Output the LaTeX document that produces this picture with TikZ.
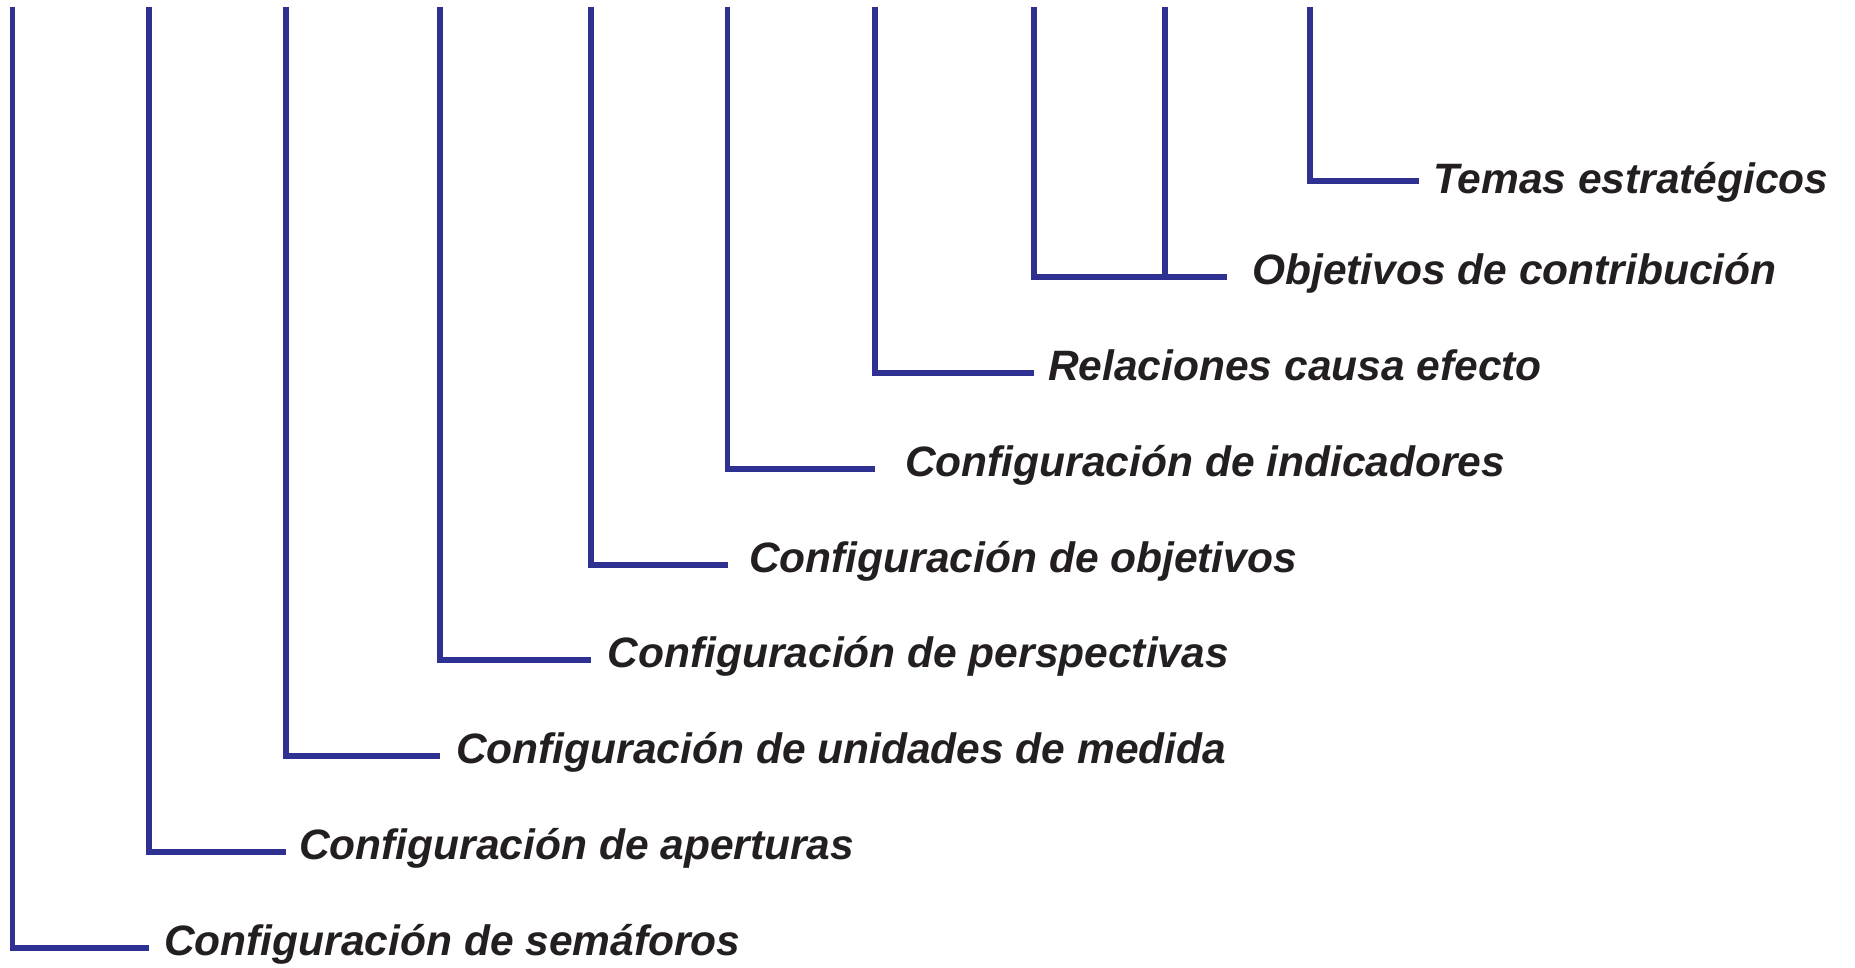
\documentclass[tikz,border=0pt]{standalone}
\usepackage{fontspec}
\setmainfont{Liberation Sans}
\definecolor{lineblue}{RGB}{46,49,146}
\definecolor{textblack}{RGB}{35,31,32}
\begin{document}
\begin{tikzpicture}[x=1pt,y=-1pt,
  link/.style={draw=lineblue,line width=5.2pt,line join=miter},
  lbl/.style={anchor=base west,inner sep=0pt,text=textblack,
    font=\fontsize{42.5}{50}\selectfont\bfseries\itshape}]
\useasboundingbox (0,0) rectangle (1855,968);
% top ends and corner ends
\coordinate (t1) at (12.5,7);   \coordinate (e1) at (149,948);
\coordinate (t2) at (149,7);    \coordinate (e2) at (286,852);
\coordinate (t3) at (286,7);    \coordinate (e3) at (440,756);
\coordinate (t4) at (440,7);    \coordinate (e4) at (591,660);
\coordinate (t5) at (591,7);    \coordinate (e5) at (727.5,565);
\coordinate (t6) at (727.5,7);  \coordinate (e6) at (875,469);
\coordinate (t7) at (875,7);    \coordinate (e7) at (1034,373);
\coordinate (t8) at (1034,7);   \coordinate (e8) at (1227,277);
\coordinate (t9) at (1165,7);
\coordinate (t10) at (1310,7);  \coordinate (e10) at (1419,181);
% labels
\node[lbl] (n1) at (164,955.5) {Configuración de semáforos};
\node[lbl] (n2) at (299,859.5) {Configuración de aperturas};
\node[lbl] (n3) at (456,763.5) {Configuración de unidades de medida};
\node[lbl] (n4) at (607.5,667.5) {Configuración de perspectivas};
\node[lbl] (n5) at (749,572.5) {Configuración de objetivos};
\node[lbl] (n6) at (905,476.5) {Configuración de indicadores};
\node[lbl] (n7) at (1048,380.5) {Relaciones causa efecto};
\node[lbl] (n8) at (1252,284.5) {Objetivos de contribución};
\node[lbl] (n10) at (1433,194) {Temas estratégicos};
% connectors
\draw[link] (t1) |- (e1);
\draw[link] (t2) |- (e2);
\draw[link] (t3) |- (e3);
\draw[link] (t4) |- (e4);
\draw[link] (t5) |- (e5);
\draw[link] (t6) |- (e6);
\draw[link] (t7) |- (e7);
\draw[link] (t8) |- (e8);
\draw[link] (t9) -- (t9 |- e8);
\draw[link] (t10) |- (e10);
\end{tikzpicture}
\end{document}
